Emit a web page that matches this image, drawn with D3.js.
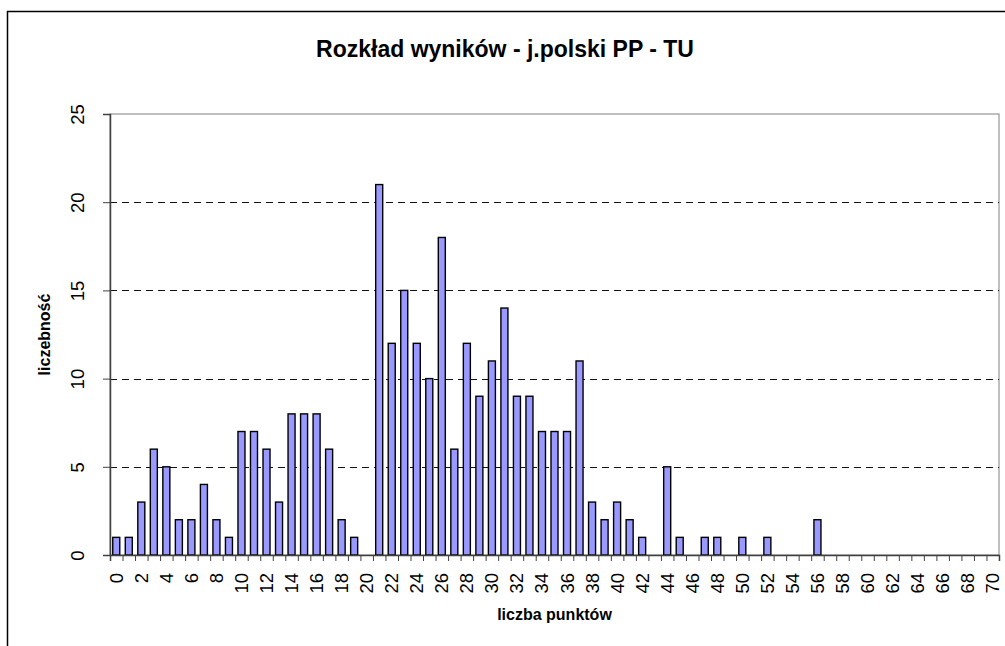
<!DOCTYPE html>
<html>
<head>
<meta charset="utf-8">
<script src="https://cdn.jsdelivr.net/npm/d3@7"></script>
<style>
  body { margin: 0; background: #fff; }
  svg { display: block; font-family: "Liberation Sans", Arial, sans-serif; }
</style>
</head>
<body>
<div id="chartdiv"></div>
<script>
// data: liczba punktów 0..70 and liczebność
let points = d3.range(0, 71),
    counts = [1, 1, 3, 6, 5, 2, 2, 4, 2, 1,
              7, 7, 6, 3, 8, 8, 8, 6, 2, 1,
              0, 21, 12, 15, 12, 10, 18, 6, 12, 9,
              11, 14, 9, 9, 7, 7, 7, 11, 3, 2,
              3, 2, 1, 0, 5, 1, 0, 1, 1, 0,
              1, 0, 1, 0, 0, 0, 2, 0, 0, 0,
              0, 0, 0, 0, 0, 0, 0, 0, 0, 0, 0],
    yTicks = [0, 5, 10, 15, 20, 25],
    titleText = "Rozkład wyników - j.polski PP - TU",
    xTitle = "liczba punktów",
    yTitle = "liczebność";

// draw
{
    function drawChart() {
        let width = 1005,
            height = 646,
            margin = { top: 114, right: 6, bottom: 91, left: 110 };

        let data = points.map(function(p, i) {
            return { p: p, c: counts[i] };
        });

        let svg = d3.select("#chartdiv").append("svg")
            .attr("width", width)
            .attr("height", height);

        // outer frame
        svg.append("rect")
            .attr("x", 7.5)
            .attr("y", 11.5)
            .attr("width", width + 20)
            .attr("height", height + 20)
            .attr("fill", "white")
            .attr("stroke", "black")
            .attr("stroke-width", 1.5);

        let x = d3.scaleBand()
            .domain(points)
            .range([margin.left, width - margin.right])
            .paddingInner(0.44)
            .paddingOuter(0.22);
        let xEdge = d3.scaleLinear()
            .domain([0, points.length])
            .range([margin.left, width - margin.right]);
        let y = d3.scaleLinear()
            .domain([0, 25])
            .range([height - margin.bottom, margin.top]);

        // plot area border (gray)
        svg.append("rect")
            .attr("x", margin.left)
            .attr("y", margin.top)
            .attr("width", width - margin.right - margin.left)
            .attr("height", height - margin.bottom - margin.top)
            .attr("fill", "none")
            .attr("stroke", "#808080")
            .attr("stroke-width", 1);

        // dashed grid lines
        svg.selectAll(".grid")
            .data(yTicks.filter(d => d > 0 && d < 25))
            .enter()
            .append("line")
            .attr("class", "grid")
            .attr("x1", margin.left)
            .attr("x2", width - margin.right)
            .attr("y1", d => Math.round(y(d)) + 0.5)
            .attr("y2", d => Math.round(y(d)) + 0.5)
            .attr("stroke", "#111")
            .attr("stroke-dasharray", "7,5");

        // bars (zero counts draw nothing)
        svg.selectAll(".barRect")
            .data(data.filter(d => d.c > 0))
            .enter()
            .append("rect")
            .attr("class", "barRect")
            .attr("x", d => x(d.p))
            .attr("y", d => y(d.c))
            .attr("width", x.bandwidth())
            .attr("height", d => y(0) - y(d.c))
            .attr("fill", "#9999ff")
            .attr("stroke", "black")
            .attr("stroke-width", 1.4);

        // y axis
        let yAxis = d3.axisLeft(y)
            .tickValues(yTicks)
            .tickSize(7)
            .tickPadding(0)
            .tickFormat(d3.format("d"));
        let gy = svg.append("g")
            .attr("transform", "translate(" + margin.left + ",0)")
            .call(yAxis);
        gy.select(".domain").attr("stroke", "#404040").attr("stroke-width", 1.5);
        gy.selectAll(".tick line").attr("stroke", "#404040");
        gy.selectAll(".tick text")
            .attr("x", 0)
            .attr("dy", 0)
            .attr("text-anchor", "middle")
            .attr("transform", "translate(-33,0) rotate(-90)")
            .attr("dominant-baseline", "central")
            .attr("font-size", 18.5)
            .attr("fill", "black");

        // x axis: boundary ticks
        let xTickAxis = d3.axisBottom(xEdge)
            .tickValues(d3.range(0, points.length + 1))
            .tickSize(6)
            .tickFormat("");
        let gx = svg.append("g")
            .attr("transform", "translate(0," + (height - margin.bottom) + ")")
            .call(xTickAxis);
        gx.select(".domain").attr("stroke", "#404040").attr("stroke-width", 1.5);
        gx.selectAll(".tick line").attr("stroke", "#404040");

        // x axis labels
        let xLabelAxis = d3.axisBottom(x)
            .tickValues(points.filter(d => d % 2 === 0))
            .tickSize(0)
            .tickPadding(0);
        let gxl = svg.append("g")
            .attr("transform", "translate(0," + (height - margin.bottom) + ")")
            .call(xLabelAxis);
        gxl.select(".domain").remove();
        gxl.selectAll(".tick text")
            .attr("x", 0)
            .attr("y", 0)
            .attr("dy", 0)
            .attr("text-anchor", "end")
            .attr("dominant-baseline", "central")
            .attr("transform", "translate(0,18) rotate(-90)")
            .attr("font-size", 18.5)
            .attr("fill", "black");

        // titles
        svg.append("text")
            .attr("x", 505)
            .attr("y", 57)
            .attr("text-anchor", "middle")
            .attr("font-size", 23)
            .attr("font-weight", "bold")
            .text(titleText);
        svg.append("text")
            .attr("x", (margin.left + width - margin.right) / 2)
            .attr("y", 620)
            .attr("text-anchor", "middle")
            .attr("font-size", 16)
            .attr("font-weight", "bold")
            .text(xTitle);
        svg.append("text")
            .attr("transform", "translate(50," + ((margin.top + height - margin.bottom) / 2) + ") rotate(-90)")
            .attr("text-anchor", "middle")
            .attr("font-size", 16)
            .attr("font-weight", "bold")
            .text(yTitle);
    }
}

// main
drawChart();
</script>
</body>
</html>
